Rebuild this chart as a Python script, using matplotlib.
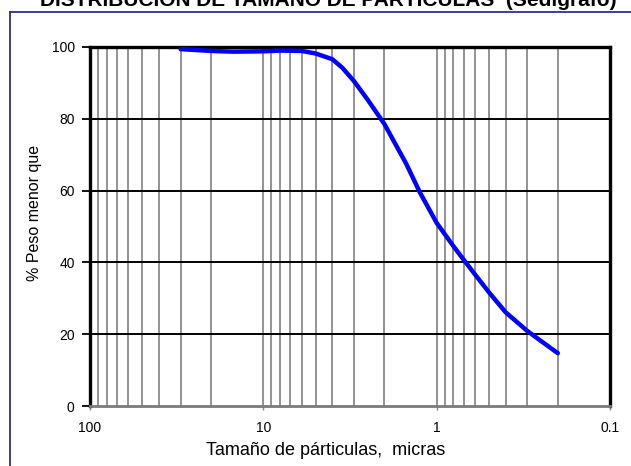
import matplotlib
matplotlib.use("Agg")
import matplotlib.pyplot as plt
from matplotlib.lines import Line2D

plt.rcParams['font.family'] = ['Liberation Sans', 'DejaVu Sans']

# Data
size_um = [30, 20, 15, 10, 8, 6, 5, 4, 3.5, 3, 2.5, 2, 1.5, 1.25, 1, 0.8,
           0.7, 0.6, 0.5, 0.4, 0.3, 0.25, 0.2]
pct_finer = [99.4, 98.9, 98.7, 98.8, 99.0, 98.9, 98.2, 96.6, 94.2, 90.5, 85.3,
             78.5, 67.5, 59.5, 51.0, 44.5, 40.8, 36.6, 31.7, 26.1, 20.9, 18.1,
             14.7]
y_ticks = [0, 20, 40, 60, 80, 100]
x_ticks = [100, 10, 1, 0.1]
x_tick_labels = ['100', '10', '1', '0.1']

title = 'DISTRIBUCIÓN DE TAMAÑO DE PARTÍCULAS  (Sedigrafo)'
xlabel = 'Tamaño de párticulas,  micras'
ylabel = '% Peso menor que'

W, H = 631, 466
fig = plt.figure(figsize=(W / 100, H / 100), dpi=100)
ax = fig.add_axes([90 / W, 1 - 406 / H, (610 - 90) / W, (406 - 47) / H])

ax.set_xscale('log')
ax.set_xlim(100, 0.1)
ax.set_ylim(0, 100)

# vertical grid lines (log minor + major)
vgrid = []
for dec in [10, 1, 0.1]:
    for m in range(2, 10):
        vgrid.append(dec * m)
vgrid += [10, 1]
for v in vgrid:
    ax.axvline(v, color='#8a8a8a', lw=1.3, zorder=1)
for yv in [20, 40, 60, 80]:
    ax.axhline(yv, color='black', lw=1.4, zorder=1)

ax.plot(size_um, pct_finer, color='#0000ff', lw=3.2, solid_capstyle='round',
        solid_joinstyle='round', zorder=3)

ax.set_yticks(y_ticks)
ax.set_xticks(x_ticks)
ax.set_xticklabels(x_tick_labels)
ax.xaxis.set_minor_locator(matplotlib.ticker.NullLocator())
ax.tick_params(axis='y', labelsize=10, length=6, width=1.3, direction='out',
               colors='black', pad=5)
ax.tick_params(axis='x', labelsize=10, length=3, width=1, direction='out',
               colors='#888888', labelcolor='black', pad=8)

for s in ['left', 'right', 'top']:
    ax.spines[s].set_linewidth(2.4)
    ax.spines[s].set_color('black')
ax.spines['bottom'].set_linewidth(2.0)
ax.spines['bottom'].set_color('#7a7a7a')

ax.set_xlabel(xlabel, fontsize=13, va='baseline')
ax.xaxis.set_label_coords((326 - 90) / 520, -(455 - 406) / 359)
ax.set_ylabel(ylabel, fontsize=11.5, va='center')
ax.yaxis.set_label_coords((35 - 90) / 520, (406 - 213) / 359)

fig.text(328 / W, 1 - 5.5 / H, title, ha='center', va='baseline',
         fontsize=15, fontweight='bold')

# figure border (only top and left visible)
fig.add_artist(Line2D([10 / W, 1.0], [1 - 12 / H, 1 - 12 / H],
                      transform=fig.transFigure, color='#1f1f7a', lw=1.2))
fig.add_artist(Line2D([10 / W, 10 / W], [1 - 12 / H, 0.0],
                      transform=fig.transFigure, color='#1f1f7a', lw=1.2))

fig.savefig('out.png', dpi=100)
